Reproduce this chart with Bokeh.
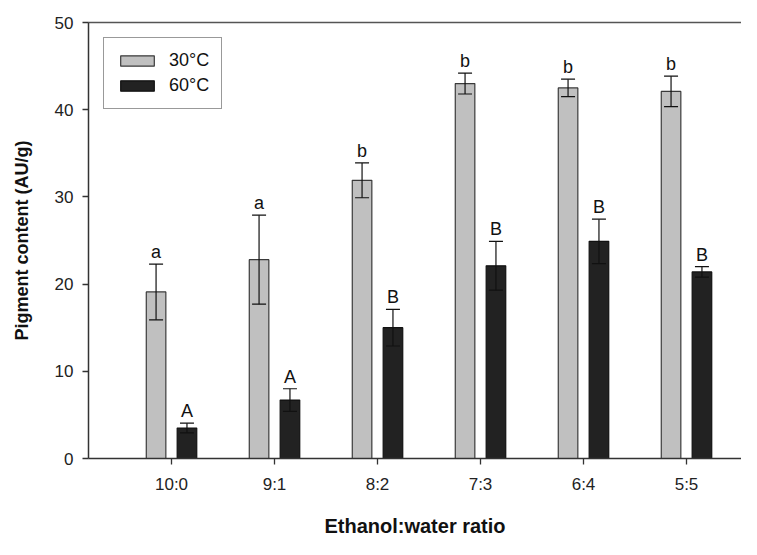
from bokeh.plotting import figure
from bokeh.models import (ColumnDataSource, Whisker, TeeHead, FixedTicker, LinearAxis,
                          Range1d, Legend)
from bokeh.core.properties import value
from bokeh.embed import file_html
from bokeh.resources import INLINE

ratios = ["10:0", "9:1", "8:2", "7:3", "6:4", "5:5"]
t30 = [19.1, 22.8, 31.9, 43.0, 42.5, 42.1]
t30_err = [3.2, 5.1, 2.0, 1.2, 1.0, 1.75]
t60 = [3.5, 6.7, 15.0, 22.1, 24.9, 21.4]
t60_err = [0.55, 1.3, 2.1, 2.8, 2.55, 0.6]
letters30 = ["a", "a", "b", "b", "b", "b"]
letters60 = ["A", "A", "B", "B", "B", "B"]
y_ticks = [0, 10, 20, 30, 40, 50]

FONT = "Liberation Sans"
offset = 0.15
bar_w = 0.19
pos = [i + 1 for i in range(len(ratios))]

def make_src(vals, errs, letters, off):
    return ColumnDataSource(dict(
        x=[p + off for p in pos],
        top=vals,
        upper=[v + e for v, e in zip(vals, errs)],
        lower=[v - e for v, e in zip(vals, errs)],
        lab=letters,
    ))

s30 = make_src(t30, t30_err, letters30, -offset)
s60 = make_src(t60, t60_err, letters60, offset)

p = figure(width=741, height=539, output_backend="svg", toolbar_location=None,
           x_range=Range1d(0.194, 6.534), y_range=Range1d(0, 50),
           min_border_left=88, min_border_top=22, min_border_bottom=78, min_border_right=0)
p.outline_line_color = None
p.xgrid.grid_line_color = None
p.ygrid.grid_line_color = None
p.background_fill_color = "white"

r30 = p.vbar(x="x", top="top", width=bar_w, bottom=0, source=s30,
             fill_color="#c0c0c0", line_color="#3a3a3a", line_width=1.2)
r60 = p.vbar(x="x", top="top", width=bar_w, bottom=0, source=s60,
             fill_color="#222222", line_color="#111111", line_width=1.2)

for src in (s30, s60):
    w = Whisker(base="x", upper="upper", lower="lower", source=src, level="annotation",
                line_color="#111111", line_width=1.2,
                upper_head=TeeHead(size=14, line_color="#111111", line_width=1.2),
                lower_head=TeeHead(size=14, line_color="#111111", line_width=1.2))
    p.add_layout(w)
    p.text(x="x", y="upper", text="lab", source=src, y_offset=-2,
           text_align="center", text_baseline="bottom",
           text_font=value(FONT), text_font_size="18px", text_color="#111111")

# axes
xa = p.xaxis[0]
xa.ticker = FixedTicker(ticks=pos)
xa.major_label_overrides = {p_: r for p_, r in zip(pos, ratios)}
ya = p.yaxis[0]
ya.ticker = FixedTicker(ticks=y_ticks)
for ax in (xa, ya):
    ax.axis_line_color = "#333333"
    ax.axis_line_width = 1.5
    ax.major_tick_line_color = "#333333"
    ax.major_tick_line_width = 1.3
    ax.major_tick_in = 0
    ax.major_tick_out = 6
    ax.minor_tick_line_color = None
    ax.major_label_text_font = FONT
    ax.major_label_text_font_size = "17px"
    ax.major_label_text_color = "#222222"
    ax.axis_label_text_font = FONT
    ax.axis_label_text_font_style = "bold"
    ax.axis_label_text_color = "#111111"
xa.major_label_standoff = 10
xa.axis_label = "Ethanol:water ratio"
xa.axis_label_text_font_size = "20px"
xa.axis_label_standoff = 18
ya.major_label_standoff = 9
ya.axis_label = "Pigment content (AU/g)"
ya.axis_label_text_font_size = "18px"
ya.axis_label_standoff = 20

top_ax = LinearAxis(ticker=FixedTicker(ticks=[]), axis_line_color="#555555",
                    axis_line_width=1.5, major_tick_line_color=None,
                    minor_tick_line_color=None)
p.add_layout(top_ax, "above")

legend = Legend(items=[("30°C", [r30]), ("60°C", [r60])], location="top_left")
legend.margin = 15
legend.padding = 12
legend.spacing = 4
legend.glyph_width = 42
legend.glyph_height = 13
legend.label_standoff = 11
legend.label_text_font = FONT
legend.label_text_font_size = "18px"
legend.label_text_color = "#111111"
legend.border_line_color = "#333333"
legend.border_line_width = 1.2
legend.background_fill_alpha = 1.0
p.add_layout(legend)

open("out.html", "w").write(file_html(p, INLINE))
